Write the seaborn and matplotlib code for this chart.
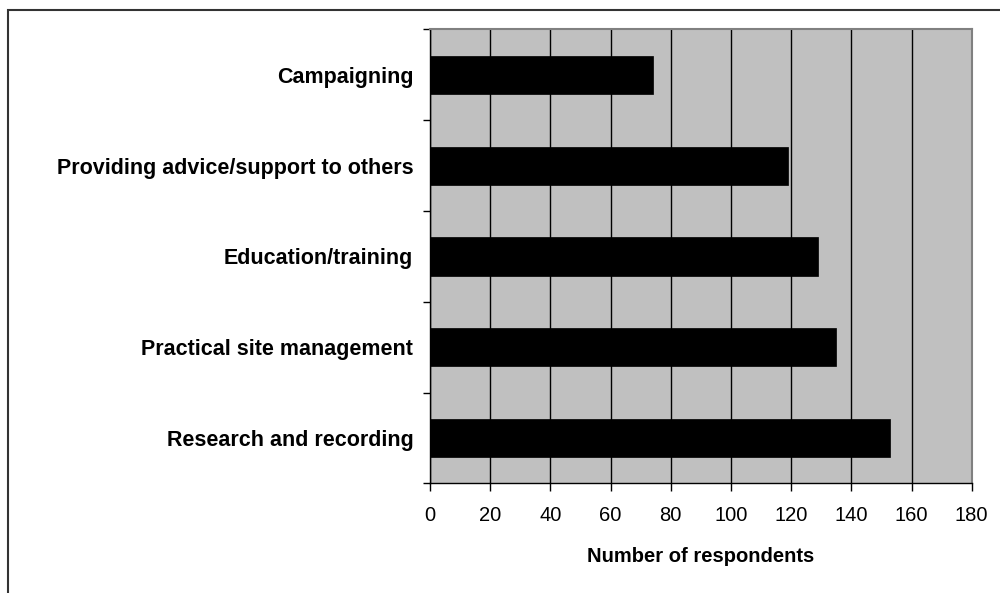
import matplotlib
matplotlib.use("Agg")
import matplotlib.pyplot as plt
import seaborn as sns
import pandas as pd
from matplotlib.patches import Rectangle

# Data
activities = ["Campaigning", "Providing advice/support to others", "Education/training",
              "Practical site management", "Research and recording"]
respondents = [74, 119, 129, 135, 153]
x_ticks = [0, 20, 40, 60, 80, 100, 120, 140, 160, 180]

df = pd.DataFrame({"activity": activities, "respondents": respondents})

sns.set_theme(style="white")
plt.rcParams["font.family"] = ["Liberation Sans", "DejaVu Sans"]
plt.rcParams["text.color"] = "black"
plt.rcParams["xtick.color"] = "black"
plt.rcParams["ytick.color"] = "black"
plt.rcParams["axes.labelcolor"] = "black"

fig = plt.figure(figsize=(10, 5.93), dpi=100)
ax = fig.add_axes([0.43, 0.1847, 0.5417, 0.7656])

sns.barplot(data=df, x="respondents", y="activity", color="black", width=0.42,
            saturation=1, edgecolor="black", linewidth=0.5, ax=ax, zorder=3)

ax.set_facecolor("#C0C0C0")
ax.set_xlim(0, 180)
ax.set_ylim(4.5, -0.5)
ax.set_xticks(x_ticks)
ax.xaxis.grid(True, color="black", linewidth=1, zorder=1)
ax.set_axisbelow(True)

# y ticks sit between the bars, labels at bar centres
ax.set_yticks([i - 0.5 for i in range(len(activities) + 1)], minor=True)
ax.tick_params(axis="y", which="major", length=0, pad=12, labelsize=15.5)
ax.tick_params(axis="y", which="minor", length=5, width=1, color="black", left=True)
ax.tick_params(axis="x", length=6, width=1, color="black", bottom=True, pad=10, labelsize=14.5)
for lbl in ax.get_yticklabels():
    lbl.set_fontweight("bold")

ax.set_ylabel("")
ax.set_xlabel("Number of respondents", fontsize=14.5, fontweight="bold", labelpad=16)

for side in ["left", "bottom"]:
    ax.spines[side].set_color("black")
    ax.spines[side].set_linewidth(1)
for side in ["top", "right"]:
    ax.spines[side].set_color("#808080")
    ax.spines[side].set_linewidth(1.5)

# outer chart frame (only top and left edges fall inside the image)
fig.add_artist(Rectangle((0.008, -0.1), 1.1, 1.1 - 10 / 593, transform=fig.transFigure,
                         fill=False, edgecolor="#333333", linewidth=1.5))

fig.savefig("out.png", dpi=100)
